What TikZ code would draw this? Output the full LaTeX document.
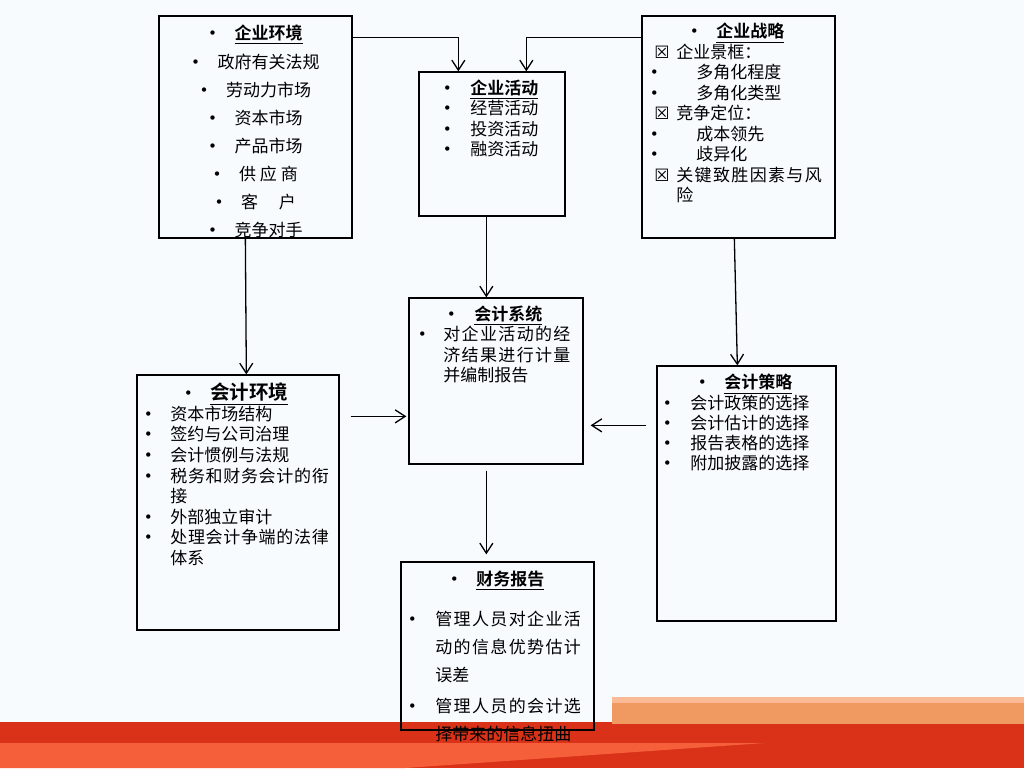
\documentclass[tikz,border=0pt]{standalone}
\usepackage{fontspec}
\setmainfont{Noto Sans CJK SC}[BoldFont={Noto Sans CJK SC Bold}]
\newfontfamily\symfont{DejaVu Sans}
\usepackage{tikz}
\usetikzlibrary{positioning,arrows.meta,calc}
\usepackage{xcolor}
\definecolor{slidebg}{RGB}{247,251,254}
\definecolor{bandred}{RGB}{217,50,24}
\definecolor{bandlight}{RGB}{245,96,58}
\definecolor{barorange}{RGB}{240,153,96}
\definecolor{barlight}{RGB}{250,186,150}
\newcommand{\hd}[1]{\underline{\textbf{#1}}}
\newcommand{\bu}{\makebox[0pt]{\textbf{•}}}
\newcommand{\xb}{\makebox[11pt][l]{{\symfont\fontsize{8.5}{8.5}\selectfont ☒}}}
\newcommand{\ls}{\addfontfeature{LetterSpace=8}}

\begin{document}
\begin{tikzpicture}[
  x=0.5pt,y=-0.5pt,
  >={Straight Barb[length=5pt,width=6.5pt]},
  blk/.style={draw=black,line width=0.65pt,inner sep=0pt},
  item lab/.style={inner sep=0pt,outer sep=0pt,align=left,font=\fontsize{8.5}{10.25}\selectfont},
  wide lab/.style={inner sep=0pt,outer sep=0pt,align=center,font=\fontsize{8.5}{14}\selectfont},
  link/.style={->,line width=0.65pt,black}
]
% Slide background
\useasboundingbox (0,0) rectangle (1024,768);
\fill[slidebg] (0,0) rectangle (1024,768);
\fill[bandred] (0,722) rectangle (1024,768);
\fill[bandlight] (0,743) -- (765,743) -- (405,768) -- (0,768) -- cycle;
\fill[barorange] (612,697) rectangle (1024,724);
\fill[barlight] (612,697) rectangle (1024,703);

% Box 1: enterprise environment
\node[blk,minimum width=96.5pt,minimum height=111pt] (b1) at (255.5,127) {};
\node[wide lab,below=4.6pt of b1.north] (b1txt)
{\makebox[4pt]{\textbf{•}}\hspace*{9pt}\hd{企业环境}\\[0.5pt]
 \makebox[4pt]{\textbf{•}}\hspace*{9pt}政府有关法规\\
 \makebox[4pt]{\textbf{•}}\hspace*{9pt}劳动力市场\\
 \makebox[4pt]{\textbf{•}}\hspace*{9pt}资本市场\\
 \makebox[4pt]{\textbf{•}}\hspace*{9pt}产品市场\\
 \makebox[4pt]{\textbf{•}}\hspace*{9pt}供 应 商\\
 \makebox[4pt]{\textbf{•}}\hspace*{9pt}客\hspace*{10.5pt}户\\
 \makebox[4pt]{\textbf{•}}\hspace*{9pt}竞争对手};

% Box 2: enterprise activities
\node[blk,minimum width=73pt,minimum height=72pt] (b2) at (492,144) {};
\node[item lab,below right=4.2pt and 14.5pt of b2.north west] (b2txt)
{\bu\hspace*{11.5pt}\hd{企业活动}\\
 \bu\hspace*{11.5pt}经营活动\\
 \bu\hspace*{11.5pt}投资活动\\
 \bu\hspace*{11.5pt}融资活动};

% Box 3: enterprise strategy
\node[blk,minimum width=96.5pt,minimum height=111pt] (b3) at (738.5,127) {};
\node[item lab,below right=4pt and 6.5pt of b3.north west] (b3txt)
{\hspace*{20pt}\bu\hspace*{11pt}\hd{企业战略}\\
 \xb 企业景框：\\
 \bu\hspace*{21pt}多角化程度\\
 \bu\hspace*{21pt}多角化类型\\
 \xb 竞争定位：\\
 \bu\hspace*{21pt}成本领先\\
 \bu\hspace*{21pt}歧异化\\
 \xb {\ls 关键致胜因素与风}\\
 \hspace*{11pt}险};

% Box 4: accounting system (centre)
\node[blk,minimum width=87pt,minimum height=83pt] (b4) at (496,381) {};
\node[item lab,below right=4.2pt and 7pt of b4.north west] (b4txt)
{\hspace*{14.5pt}\bu\hspace*{11.5pt}\hd{会计系统}\\
 \bu\hspace*{10.5pt}{\ls 对企业活动的经}\\
 \hspace*{10.5pt}{\ls 济结果进行计量}\\
 \hspace*{10.5pt}并编制报告};

% Box 5: accounting environment
\node[blk,minimum width=101pt,minimum height=127.5pt] (b5) at (238,502.5) {};
\node[item lab,font=\fontsize{8.5}{10.3}\selectfont,below right=4.3pt and 6pt of b5.north west] (b5txt)
{\hspace*{20pt}\bu\hspace*{11pt}{\fontsize{9.75}{10.3}\selectfont\hd{会计环境}}\\
 \bu\hspace*{11pt}资本市场结构\\
 \bu\hspace*{11pt}签约与公司治理\\
 \bu\hspace*{11pt}会计惯例与法规\\
 \bu\hspace*{11pt}{\addfontfeature{LetterSpace=4}税务和财务会计的衔}\\
 \hspace*{11pt}接\\
 \bu\hspace*{11pt}外部独立审计\\
 \bu\hspace*{11pt}{\addfontfeature{LetterSpace=4}处理会计争端的法律}\\
 \hspace*{11pt}体系};

% Box 6: accounting strategy
\node[blk,minimum width=89.5pt,minimum height=127.5pt] (b6) at (746.5,493.5) {};
\node[item lab,font=\fontsize{8.5}{10.1}\selectfont,below right=4.5pt and 5.5pt of b6.north west] (b6txt)
{\hspace*{17.5pt}\bu\hspace*{11pt}\hd{会计策略}\\
 \bu\hspace*{11.5pt}会计政策的选择\\
 \bu\hspace*{11.5pt}会计估计的选择\\
 \bu\hspace*{11.5pt}报告表格的选择\\
 \bu\hspace*{11.5pt}附加披露的选择};

% Box 7: financial reporting
\node[blk,minimum width=96.5pt,minimum height=84pt] (b7) at (497.5,646) {};
\node[item lab,font=\fontsize{8.5}{14}\selectfont,below right=4.6pt and 6pt of b7.north west] (b7txt)
{\hspace*{21pt}\bu\hspace*{11pt}\hd{财务报告}\\[6pt]
 \bu\hspace*{11.5pt}{\ls 管理人员对企业活}\\
 \hspace*{11.5pt}{\ls 动的信息优势估计}\\
 \hspace*{11.5pt}误差\\[1.5pt]
 \bu\hspace*{11.5pt}{\ls 管理人员的会计选}\\
 \hspace*{11.5pt}择带来的信息扭曲};

% Connectors
\draw[link] ($(b1.north east)+(0,22)$) -| ($(b2.north west)+(40,0)$);
\draw[link] ($(b3.north west)+(0,22)$) -| ($(b2.north west)+(108,0)$);
\draw[link] ($(b2.south west)+(68,0)$) -- ($(b4.north west)+(78,0)$);
\draw[link] ($(b1.south west)+(87,0)$) -- ($(b5.north west)+(110,0)$);
\draw[link] ($(b3.south west)+(93,0)$) -- ($(b6.north west)+(81,0)$);
\draw[link] ($(b5.north east)+(11,42)$) -- ($(b4.north west)+(-2,119)$);
\draw[link] ($(b6.north west)+(-10,60)$) -- ($(b4.north east)+(7,128)$);
\draw[link] ($(b4.south west)+(78,6)$) -- ($(b7.north west)+(86,-7)$);

\end{tikzpicture}
\end{document}
